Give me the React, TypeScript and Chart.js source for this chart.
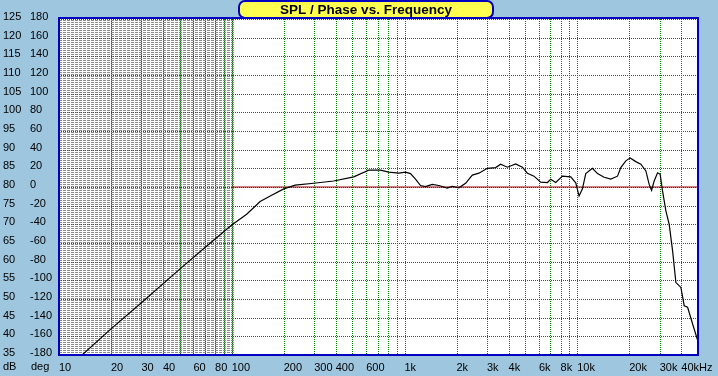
import { useEffect, useRef } from "react";
import { Chart, registerables } from "chart.js";

Chart.register(...registerables);

const freqHz = [13.6, 20, 30, 50, 70, 100, 122, 146, 167, 200, 233, 298, 389, 508, 621, 726, 811, 927, 1013, 1083, 1158, 1238, 1323, 1447, 1580, 1768, 1890, 2064, 2257, 2469, 2696, 3016, 3370, 3602, 3939, 4401, 4813, 5143, 5618, 6143, 6718, 7021, 7506, 8209, 9170, 9802, 10243, 10718, 11200, 12250, 13095, 14302, 15640, 17100, 17870, 19105, 20240, 21830, 23340, 24960, 26080, 26920, 27870, 29170, 30200, 31180, 32590, 34060, 35640, 37240, 39810, 41600, 43530, 46540, 49750, 50000];
const splDb = [35, 42, 49, 58, 63.8, 69.8, 72.7, 76.1, 77.6, 79.5, 80.5, 81.0, 81.6, 82.7, 84.5, 84.5, 84.0, 83.7, 84.0, 83.6, 82.1, 80.4, 80.1, 80.7, 80.4, 79.7, 80.2, 79.8, 81.0, 83.2, 83.7, 85.0, 85.2, 86.1, 85.3, 86.2, 85.3, 83.7, 82.9, 81.3, 81.2, 82.1, 81.2, 82.9, 82.7, 81.1, 77.6, 79.5, 83.6, 85.0, 83.6, 82.6, 82.1, 82.9, 85.2, 87.0, 87.8, 86.8, 86.1, 84.3, 80.7, 79.1, 81.6, 83.8, 83.4, 78.9, 73.6, 70.0, 62.9, 54.4, 53.1, 48.2, 47.8, 43.3, 38.9, 38.0];

const phaseFreqHz = [100, 50000];
const phaseDeg = [0, 0];

const xTickValues = [10, 20, 30, 40, 50, 60, 70, 80, 90, 100, 200, 300, 400, 500, 600, 700, 800, 900, 1000, 2000, 3000, 4000, 5000, 6000, 7000, 8000, 9000, 10000, 20000, 30000, 40000, 50000];
const xTickLabels = ["10", "20", "30", "40", "", "60", "", "80", "", "100", "200", "300", "400", "", "600", "", "", "", "1k", "2k", "3k", "4k", "", "6k", "", "8k", "", "10k", "20k", "30k", "40kHz", ""];
const dbTicks = [35, 40, 45, 50, 55, 60, 65, 70, 75, 80, 85, 90, 95, 100, 105, 110, 115, 120, 125];
const degTicks = [-180, -160, -140, -120, -100, -80, -60, -40, -20, 0, 20, 40, 60, 80, 100, 120, 140, 160, 180];

const TITLE = "SPL / Phase vs. Frequency";
const BG = "rgb(158,198,222)";
const FRAME = "#0000c0";
const GRID = "#008000";
const FONT = "'Liberation Sans', Arial, sans-serif";

const decor = {
  id: "decor",
  beforeDraw(chart: any) {
    const { ctx, chartArea: a, scales } = chart;
    ctx.save();
    ctx.fillStyle = BG;
    ctx.fillRect(0, 0, chart.width, chart.height);
    ctx.fillStyle = "#ffffff";
    ctx.fillRect(a.left, a.top, a.right - a.left, a.bottom - a.top);
    // dense fine grid texture between 10 Hz and 100 Hz
    const x0 = Math.round(scales.x.getPixelForValue(10));
    const x1 = Math.round(scales.x.getPixelForValue(100));
    ctx.fillStyle = "#8c8c8c";
    for (let y = Math.round(a.top) + 1; y < a.bottom; y += 2) {
      for (let x = x0; x < x1; x += 4) {
        ctx.fillRect(x, y, 3, 1);
      }
    }
    // dotted green grid from the axes' ticks
    ctx.fillStyle = GRID;
    const top = Math.round(a.top);
    const bottom = Math.round(a.bottom);
    const left = Math.round(a.left);
    const right = Math.round(a.right);
    for (const t of scales.x.ticks) {
      const px = Math.round(scales.x.getPixelForValue(t.value));
      for (let y = top; y <= bottom; y += 2) ctx.fillRect(px, y, 1, 1);
    }
    for (const t of scales.y2.ticks) {
      const py = Math.round(scales.y2.getPixelForValue(t.value));
      for (let x = left; x <= right; x += 2) ctx.fillRect(x, py, 1, 1);
    }
    ctx.restore();
  },
  afterDraw(chart: any) {
    const { ctx, chartArea: a } = chart;
    const l = Math.round(a.left), r = Math.round(a.right), t = Math.round(a.top), b = Math.round(a.bottom);
    ctx.save();
    ctx.fillStyle = FRAME;
    ctx.fillRect(l - 1, t - 2, r - l + 2, 2);
    ctx.fillRect(l - 1, b - 1, r - l + 2, 2);
    ctx.fillRect(l - 1, t - 2, 2, b - t + 3);
    ctx.fillRect(r - 1, t - 2, 2, b - t + 3);
    ctx.fillStyle = "#000";
    ctx.font = `11px ${FONT}`;
    ctx.textBaseline = "middle";
    ctx.textAlign = "left";
    ctx.fillText("dB", 3, 367);
    ctx.fillText("deg", 31, 367);
    // title box
    ctx.beginPath();
    ctx.roundRect(239, 1, 254, 17, 6);
    ctx.fillStyle = "#ffff50";
    ctx.fill();
    ctx.lineWidth = 2;
    ctx.strokeStyle = FRAME;
    ctx.stroke();
    ctx.fillStyle = "#000";
    ctx.font = `bold 13.5px ${FONT}`;
    ctx.textAlign = "center";
    ctx.fillText(TITLE, 366, 10);
    ctx.restore();
  },
};

export default function App() {
  const ref = useRef<HTMLCanvasElement | null>(null);
  useEffect(() => {
    document.body.style.margin = "0";
    const canvas = ref.current!;
    const tickFont = { family: FONT, size: 11 };
    const chart = new Chart(canvas, {
      type: "line",
      data: {
        datasets: [
          {
            label: "SPL",
            data: freqHz.map((f, i) => ({ x: f, y: splDb[i] })),
            borderColor: "#000000",
            borderWidth: 1.2,
            pointRadius: 0,
            tension: 0,
            yAxisID: "y",
          },
          {
            label: "Phase",
            data: phaseFreqHz.map((f, i) => ({ x: f, y: phaseDeg[i] })),
            borderColor: "#980000",
            borderWidth: 1,
            pointRadius: 0,
            yAxisID: "y2",
          },
        ],
      },
      plugins: [decor],
      options: {
        animation: false,
        responsive: false,
        devicePixelRatio: 1,
        layout: { padding: { left: 3, right: 20, top: 19, bottom: 0 } },
        plugins: { legend: { display: false }, tooltip: { enabled: false }, title: { display: false } },
        scales: {
          x: {
            type: "logarithmic",
            position: "bottom",
            min: 10,
            max: 50000,
            afterBuildTicks: (s: any) => {
              s.ticks = xTickValues.map((v) => ({ value: v }));
            },
            afterFit: (s: any) => {
              s.height = 21;
            },
            grid: { display: false, drawTicks: false },
            border: { display: false },
            ticks: {
              autoSkip: false,
              maxRotation: 0,
              minRotation: 0,
              align: "start",
              padding: 6,
              color: "#000",
              font: tickFont,
              callback: (_v: any, i: number) => xTickLabels[i] ?? "",
            },
          },
          y: {
            type: "linear",
            position: "left",
            weight: 1,
            min: 35,
            max: 125,
            afterBuildTicks: (s: any) => {
              s.ticks = dbTicks.map((v) => ({ value: v }));
            },
            afterFit: (s: any) => {
              s.width = 27;
            },
            grid: { display: false },
            border: { display: false },
            ticks: { autoSkip: false, crossAlign: "far", labelOffset: -2, padding: 0, color: "#000", font: tickFont },
          },
          y2: {
            type: "linear",
            position: "left",
            weight: 0,
            min: -180,
            max: 180,
            afterBuildTicks: (s: any) => {
              s.ticks = degTicks.map((v) => ({ value: v }));
            },
            afterFit: (s: any) => {
              s.width = 29;
            },
            grid: { display: false, drawTicks: false },
            border: { display: false },
            ticks: { autoSkip: false, crossAlign: "far", labelOffset: -2, padding: 0, color: "#000", font: tickFont },
          },
        },
      } as any,
    });
    return () => chart.destroy();
  }, []);
  return <canvas ref={ref} width={718} height={376} style={{ display: "block" }} />;
}
